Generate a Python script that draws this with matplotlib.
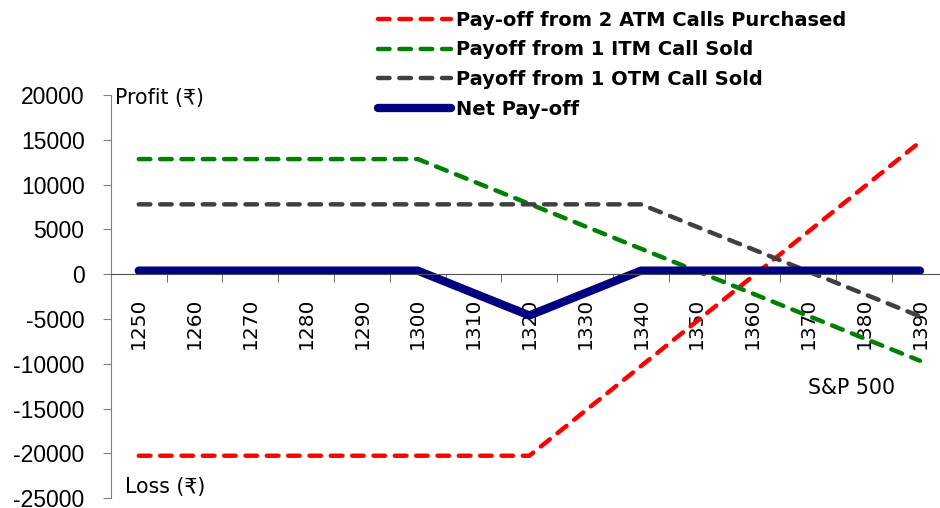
import matplotlib
matplotlib.use("Agg")
import matplotlib.pyplot as plt
import numpy as np

plt.rcParams['font.family'] = ['DejaVu Sans', 'Noto Sans']
plt.rcParams['axes.unicode_minus'] = False

strikes = ["1250", "1260", "1270", "1280", "1290", "1300", "1310", "1320",
           "1330", "1340", "1350", "1360", "1370", "1380", "1390"]
atm_calls = [-20250, -20250, -20250, -20250, -20250, -20250, -20250, -20250,
             -15250, -10250, -5250, -250, 4750, 9750, 14750]
itm_call = [12850, 12850, 12850, 12850, 12850, 12850, 10350, 7850,
            5350, 2850, 350, -2150, -4650, -7150, -9650]
otm_call = [7800, 7800, 7800, 7800, 7800, 7800, 7800, 7800,
            7800, 7800, 5300, 2800, 300, -2200, -4700]
net_payoff = [400, 400, 400, 400, 400, 400, -2100, -4600,
              -2100, 400, 400, 400, 400, 400, 400]

fig = plt.figure(figsize=(9.4, 5.08), dpi=100)
ax = fig.add_axes([110.9 / 940, 9.7 / 508, (940 - 110.9) / 940, (498.3 - 95) / 508])

x = np.arange(len(strikes))
dash = (2.6, 2.2)
l1, = ax.plot(x, atm_calls, color="#ff0000", lw=3.2, dashes=dash, dash_capstyle="round")
l2, = ax.plot(x, itm_call, color="#008000", lw=3.2, dashes=dash, dash_capstyle="round")
l3, = ax.plot(x, otm_call, color="#404040", lw=3.2, dashes=dash, dash_capstyle="round")
l4, = ax.plot(x, net_payoff, color="#000080", lw=6, solid_capstyle="round")

ax.set_xlim(-0.5, 14.36)
ax.set_ylim(-25000, 20000)
ax.set_yticks(np.arange(-25000, 20001, 5000))

ax.spines["top"].set_visible(False)
ax.spines["right"].set_visible(False)
ax.spines["bottom"].set_position(("data", 0))
ax.spines["bottom"].set_color("#505050")
ax.spines["left"].set_color("#808080")

ax.set_xticks(x)
ax.set_xticklabels(strikes, rotation=90, fontsize=14.5)
ax.set_xticks(np.arange(-0.5, 14.5, 1), minor=True)
ax.tick_params(axis="x", which="major", length=0, pad=17)
ax.tick_params(axis="x", which="minor", length=6, direction="out", color="#505050")
ax.tick_params(axis="y", length=6, color="#808080", labelsize=16.5, pad=13)
for t in ax.get_yticklabels():
    t.set_family(["Liberation Sans", "DejaVu Sans"])

fig.text(115 / 940, 1 - 98 / 508, "Profit (₹)", fontsize=14.8, va="center", ha="left")
fig.text(125 / 940, 1 - 487 / 508, "Loss (₹)", fontsize=14.8, va="center", ha="left")
fig.text(808 / 940, 1 - 388 / 508, "S&P 500", fontsize=14.8, va="center", ha="left")

fig.legend([l1, l2, l3, l4],
           ["Pay-off from 2 ATM Calls Purchased", "Payoff from 1 ITM Call Sold",
            "Payoff from 1 OTM Call Sold", "Net Pay-off"],
           loc="upper left", bbox_to_anchor=(370 / 940, 1 - 3 / 508),
           frameon=False, handlelength=3.75, handletextpad=0.25, labelspacing=0.55,
           prop={"weight": "bold", "size": 14}, borderaxespad=0)

fig.savefig("out.png", dpi=100)
